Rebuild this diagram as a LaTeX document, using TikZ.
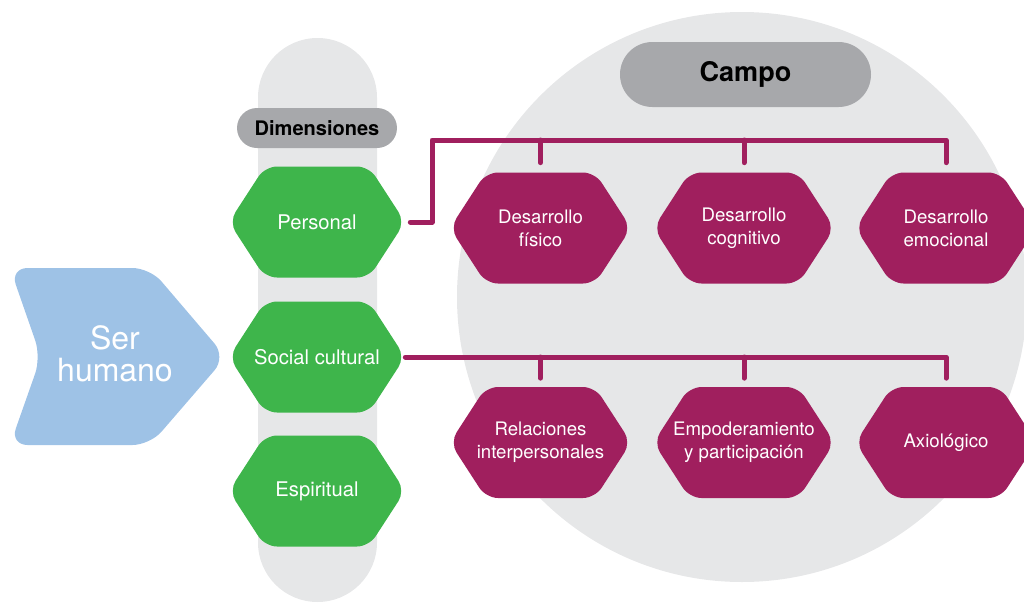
\documentclass[tikz,border=0pt]{standalone}
\usepackage{fontspec}
\setmainfont{TeX Gyre Heros}
\usepackage{tikz}
\usetikzlibrary{
  positioning,
  shapes.misc
}
\definecolor{grisclaro}{RGB}{230,231,232}
\definecolor{grisoscuro}{RGB}{167,168,171}
\definecolor{verde}{RGB}{62,181,75}
\definecolor{azul}{RGB}{158,194,230}
\definecolor{morado}{RGB}{160,31,94}

\tikzset{
  hexa/.pic={\fill[pic actions, rounded corners=0.24cm] (0,1.11) -- (#1-0.72,1.11) -- (#1,0) -- (#1-0.72,-1.11) -- (-#1+0.72,-1.11) -- (-#1,0) -- (-#1+0.72,1.11) -- cycle;}
}

\begin{document}
\begin{tikzpicture}[
  txt/.style={text=white, align=center, inner sep=0pt, minimum height=2.2cm, font=\fontsize{10.6}{13}\selectfont},
  pill/.style={rounded rectangle, fill=grisoscuro, inner sep=0pt},
  link/.style={draw=morado, line width=0.1cm, line cap=round, line join=round}]
\useasboundingbox (0,0) rectangle (20.48,-12.06);
% fondo
\fill[grisclaro] (14.84,-5.94) circle (5.7);
\fill[grisclaro, rounded corners=1.19cm] (5.16,-0.76) rectangle (7.54,-12.04);
% ser humano
\fill[azul, rounded corners=0.35cm] (0.2,-5.36) -- (3.0,-5.36) -- (4.52,-7.14) -- (3.0,-8.9) -- (0.2,-8.9) -- (0.82,-7.14) -- cycle;
\node[text=white, align=center, font=\fontsize{18.2}{18.5}\selectfont] (ser) at (2.3,-7.08) {Ser\\humano};
% titulos
\node[pill, minimum width=3.2cm, minimum height=0.8cm, font=\bfseries\fontsize{11.4}{12}\selectfont] (dim) at (6.34,-2.56) {Dimensiones};
\node[pill, minimum width=5.02cm, minimum height=1.3cm, font=\bfseries\fontsize{15.4}{16}\selectfont] (campo) at (14.91,-1.49) {Campo};
% dimensiones
\foreach \n/\y/\t in {personal/-4.44/Personal, social/-7.14/Social cultural, espiritual/-9.82/Espiritual}{
  \pic[fill=verde] at (6.34,\y) {hexa=1.76};
  \node[txt, minimum width=3.52cm, font=\fontsize{11.5}{13}\selectfont] (\n) at (6.34,\y) {\t};
}
% campos
\foreach \n/\x/\y/\t in {fisico/10.81/-4.56/Desarrollo\\físico, cognitivo/14.88/-4.56/Desarrollo\\cognitivo, emocional/18.92/-4.56/Desarrollo\\emocional,
  relaciones/10.81/-8.85/Relaciones\\interpersonales, empoderamiento/14.88/-8.85/Empoderamiento\\y participación, axiologico/18.92/-8.85/Axiológico}{
  \pic[fill=morado] at (\x,\y) {hexa=1.81};
  \node[txt, minimum width=3.62cm] (\n) at (\x,\y) {\t};
}
% conectores
\coordinate (barra) at (8.64,-2.8);
\draw[link] ([xshift=0.1cm]personal.east) -| (barra) -| ([yshift=0.2cm]emocional.north);
\foreach \n in {fisico, cognitivo}
  \draw[link] (\n.north |- barra) -- ([yshift=0.2cm]\n.north);
\draw[link] (social.east) -| ([yshift=0.18cm]axiologico.north);
\foreach \n in {relaciones, empoderamiento}
  \draw[link] (\n.north |- social.east) -- ([yshift=0.18cm]\n.north);
\end{tikzpicture}
\end{document}
